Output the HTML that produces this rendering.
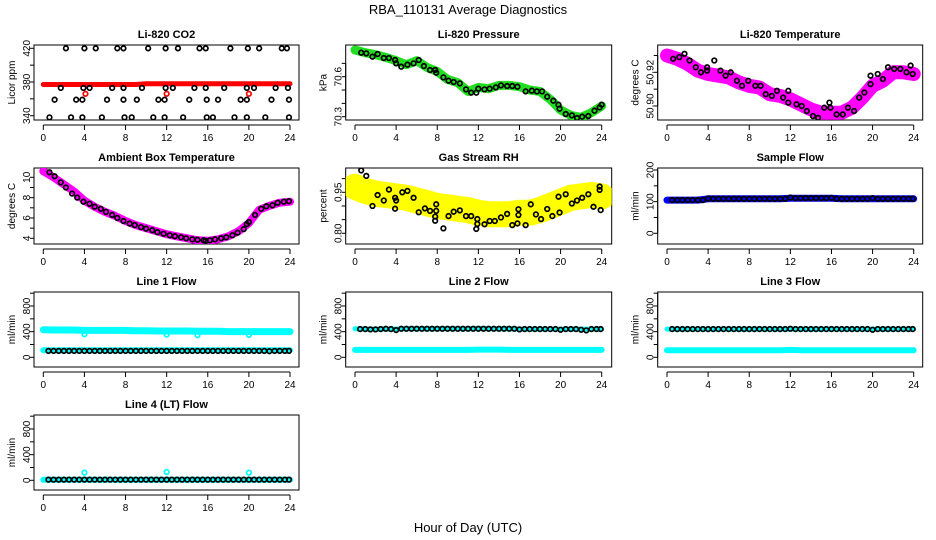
<!DOCTYPE html>
<html><head><meta charset="utf-8"><style>
html,body{margin:0;padding:0;background:#fff;}
svg{display:block;font-family:"Liberation Sans",sans-serif;}
</style></head><body>
<svg id="chart" width="936" height="540" viewBox="0 0 936 540" xmlns="http://www.w3.org/2000/svg">
<text x="468" y="14" font-size="13" text-anchor="middle">RBA_110131  Average Diagnostics</text>
<text x="468" y="532" font-size="13" text-anchor="middle">Hour of Day (UTC)</text>
</svg>
<script>
// ---- shared data ----
const hours = [0,1,2,3,4,5,6,7,8,9,10,11,12,13,14,15,16,17,18,19,20,21,22,23,24];
const halfHours = [0.5,1,1.5,2,2.5,3,3.5,4,4.5,5,5.5,6,6.5,7,7.5,8,8.5,9,9.5,10,10.5,11,11.5,12,12.5,13,13.5,14,14.5,15,15.5,16,16.5,17,17.5,18,18.5,19,19.5,20,20.5,21,21.5,22,22.5,23,23.5,23.9];
const xTicks = [0,4,8,12,16,20,24];

// CO2
const co2Band = [377,377,377,377,377,377,377,377,377,377,378,378,378,378,378,378,378,378,378,378,378,378,378,378,378];
const co2OutT = [4.1,12.0,20.0];
const co2OutV = [366,366,366];
const co2T = [2.2,4.0,5.1,7.2,7.8,10.2,11.9,13.1,15.2,15.8,18.2,19.9,21.0,23.2,23.7, 1.7,3.9,4.5,6.7,7.8,9.6,11.9,12.6,14.7,15.8,17.6,19.8,20.5,22.6,23.8, 1.1,3.2,3.8,6.2,7.8,9.1,11.2,11.8,14.2,15.9,17.0,19.2,19.8,22.2,23.9, 0.6,2.7,3.8,5.7,7.9,8.6,10.7,11.8,13.6,15.9,16.5,18.6,19.8,21.6,23.9];
const co2V = [420,420,420,420,420,420,420,420,420,420,420,420,420,420,420, 373,373,373,373,373,373,373,373,373,373,373,373,373,373,373, 359,359,359,359,359,359,359,359,359,359,359,359,359,359,359, 338,338,338,338,338,338,338,338,338,338,338,338,338,338,338];

// Pressure
const presBand = [70.80,70.78,70.765,70.745,70.72,70.69,70.72,70.67,70.64,70.58,70.555,70.49,70.52,70.51,70.535,70.535,70.525,70.50,70.49,70.43,70.35,70.31,70.295,70.33,70.38];
const presT = [0.6,1.1,1.7,2.2,2.8,3.3,3.9,4.0,4.5,5.1,5.7,6.2,6.7,7.3,7.8,7.9,8.6,9.1,9.6,10.2,10.8,11.3,11.8,12.0,12.6,13.1,13.7,14.2,14.8,15.3,15.8,16.6,17.2,17.7,18.2,18.7,19.3,19.8,19.9,20.5,21.1,21.6,22.1,22.7,23.3,23.8,24.0];
const presV = [70.78,70.775,70.75,70.77,70.74,70.74,70.725,70.70,70.675,70.69,70.70,70.725,70.68,70.65,70.65,70.63,70.595,70.57,70.56,70.55,70.505,70.48,70.48,70.51,70.505,70.51,70.52,70.535,70.53,70.53,70.525,70.49,70.495,70.49,70.49,70.45,70.42,70.39,70.36,70.32,70.31,70.29,70.30,70.305,70.345,70.37,70.39];

// Li-820 temperature
const tempBand = [50.930,50.928,50.925,50.921,50.919,50.918,50.917,50.914,50.912,50.911,50.907,50.906,50.904,50.901,50.898,50.896,50.896,50.896,50.899,50.905,50.912,50.915,50.920,50.920,50.919];
const tempT = [0.6,1.2,1.7,2.2,2.8,3.3,3.9,3.9,4.6,5.2,5.7,6.2,6.8,7.3,7.9,8.6,9.1,9.6,10.2,10.7,11.3,11.8,11.8,12.6,13.1,13.6,14.2,14.7,15.3,15.8,15.9,16.5,17.1,17.6,18.2,18.7,19.2,19.8,19.8,20.5,21.0,21.5,22.1,22.7,23.3,23.7,23.9];
const tempV = [50.928,50.929,50.931,50.927,50.923,50.920,50.923,50.921,50.927,50.921,50.918,50.920,50.915,50.912,50.915,50.912,50.912,50.907,50.906,50.909,50.905,50.909,50.902,50.901,50.900,50.897,50.894,50.893,50.899,50.902,50.899,50.895,50.895,50.899,50.897,50.905,50.908,50.913,50.918,50.919,50.916,50.923,50.922,50.922,50.920,50.924,50.919];

// Ambient box temperature
const ambBand = [10.6,10.0,9.3,8.6,7.7,7.1,6.6,6.2,5.7,5.3,5.0,4.7,4.4,4.2,4.0,3.8,3.75,3.9,4.2,4.7,5.5,6.8,7.2,7.5,7.6];
const ambT = [0.6,1.1,1.7,2.2,2.8,3.3,3.9,4.5,5.0,5.6,6.1,6.7,7.2,7.8,8.4,8.9,9.5,10.0,10.6,11.1,11.7,12.3,12.8,13.4,13.9,14.5,15.0,15.6,15.8,16.2,16.7,17.3,17.8,18.4,18.9,19.5,19.8,20.0,20.6,21.2,21.7,22.3,22.8,23.4,23.9];
const ambV = [10.5,10.1,9.5,9.0,8.4,8.0,7.6,7.4,7.1,6.9,6.6,6.3,6.0,5.7,5.45,5.3,5.1,4.95,4.8,4.6,4.45,4.3,4.2,4.1,4.0,3.9,3.85,3.8,3.75,3.8,3.9,4.0,4.1,4.3,4.55,4.9,5.4,5.6,6.3,6.9,7.15,7.25,7.5,7.6,7.65];

// Gas stream RH
const rhBand = [0.97,0.955,0.945,0.94,0.935,0.93,0.92,0.91,0.90,0.895,0.89,0.885,0.875,0.87,0.87,0.87,0.875,0.875,0.885,0.90,0.915,0.93,0.935,0.94,0.935];
const rhT = [0.6,1.1,1.7,2.2,2.8,3.3,3.9,4.0,3.9,4.6,5.1,5.7,6.2,6.8,7.3,7.9,7.9,7.8,7.8,8.6,9.1,9.6,10.2,10.8,11.3,11.9,11.9,11.8,12.6,13.1,13.6,14.2,14.8,15.3,15.8,15.9,15.9,16.6,17.1,17.6,18.1,18.7,19.2,19.8,19.9,20.5,21.1,21.6,22.1,22.7,23.2,23.8,23.8,23.9];
const rhV = [1.03,1.01,0.90,0.94,0.92,0.96,0.93,0.92,0.89,0.95,0.955,0.93,0.877,0.891,0.882,0.906,0.882,0.861,0.846,0.818,0.863,0.879,0.884,0.863,0.863,0.852,0.834,0.816,0.833,0.845,0.845,0.858,0.871,0.830,0.836,0.867,0.888,0.830,0.906,0.869,0.852,0.889,0.863,0.934,0.876,0.943,0.909,0.920,0.930,0.943,0.897,0.971,0.959,0.885];

// Sample flow
const sampBand = [105,105,105,105,109,109,109,109,109,109,109,109,111,111,111,111,111,109,109,109,109,109,109,109,109];
const sampV = [105,105,105,105,105,105,105,110,109,109,109,109,109,109,109,109,109,109,109,109,109,109,109,113,111,111,111,111,111,111,111,112,109,109,109,109,109,109,109,111,109,109,109,109,109,109,109,109];

// Line flows
const l1Upper = [430,425,425,425,420,420,420,420,420,415,415,410,410,410,410,405,405,405,400,400,400,400,400,400,400];
const l1Lower = [110,110,110,110,110,110,110,110,110,110,110,110,110,110,110,110,110,110,110,110,110,110,110,110,110];
const l1OutT = [4.0,12.0,15.0,20.0];
const l1OutV = [360,355,345,350];
const l1Black = [100,100,100,100,100,100,100,100,100,100,100,100,100,100,100,100,100,100,100,100,100,100,100,100,100,100,100,100,100,100,100,100,100,100,100,100,100,100,100,100,100,100,100,95,100,100,100,100];
const l2Upper = [445,440,440,440,440,445,445,445,445,445,445,445,450,445,445,445,440,440,440,440,440,440,440,440,440];
const l2Lower = [115,115,115,115,115,115,115,115,115,115,115,115,120,120,120,115,115,115,115,115,115,115,115,115,115];
const l2Black = [440,440,435,435,440,445,440,425,445,445,445,445,445,445,445,445,445,445,445,445,445,445,445,445,445,445,445,445,445,445,445,435,440,440,440,440,440,440,440,430,440,440,440,430,420,440,440,440];
const l3Upper = [440,440,440,440,440,440,440,440,440,440,440,440,440,440,440,440,440,440,440,440,440,440,440,440,440];
const l3Lower = [110,110,110,110,110,110,110,110,110,110,110,110,115,110,110,110,110,110,110,110,110,110,110,110,110];
const l3Black = [440,440,440,440,440,440,440,440,440,440,440,440,440,440,440,440,440,440,440,440,440,440,440,445,440,440,440,440,440,440,440,440,440,440,440,440,440,440,440,430,440,440,440,440,440,440,440,440];
const l4Band = [10,10,10,10,10,10,10,10,10,10,10,10,10,10,10,10,10,10,10,10,10,10,10,10,10];
const l4OutT = [4.0,12.0,20.0];
const l4OutV = [120,130,120];
const l4Black = [10,10,10,10,10,10,10,10,10,10,10,10,10,10,10,10,10,10,10,10,10,10,10,10,10,10,10,10,10,10,10,10,10,10,10,10,10,10,10,10,10,10,10,10,10,10,10,10];

const svg = document.getElementById('chart');
const NS = 'http://www.w3.org/2000/svg';
function mk(tag, attrs, parent){
  const e = document.createElementNS(NS, tag);
  for (const k in attrs) e.setAttribute(k, attrs[k]);
  (parent||svg).appendChild(e);
  return e;
}
const cols = [{l:34,r:299,x0:43.3,x24:290},{l:345.7,r:611.7,x0:355,x24:601.7},{l:657.7,r:922.7,x0:667,x24:913.7}];
const rows = [{t:45,b:120},{t:168,b:244},{t:292,b:367},{t:415,b:490}];

function panel(slug, title, ylab, c, r, v1, p1, v2, p2, yTicks, yLabels){
  const C = cols[c], R = rows[r];
  const g = mk('g', {});
  
  
  const xs = h => C.x0 + (C.x24 - C.x0) * h / 24;
  const ys = v => p1 + (v - v1) * (p2 - p1) / (v2 - v1);
  const box = mk('rect', {x:C.l, y:R.t, width:C.r-C.l, height:R.b-R.t, fill:'none', stroke:'#000', 'stroke-width':1}, g);
  
  
  const tt = mk('text', {x:(C.l+C.r)/2, y:R.t-7, 'font-size':11, 'font-weight':'bold', 'text-anchor':'middle'}, g);
  tt.textContent = title;
  
  
  const yt = mk('text', {x:0, y:0, 'font-size':10, 'text-anchor':'middle', transform:`translate(${C.l-19},${(R.t+R.b)/2}) rotate(-90)`}, g);
  yt.textContent = ylab;
  
  
  const xa = mk('g', {}, g);
  
  
  mk('line', {x1:xs(0), x2:xs(24), y1:R.b+5, y2:R.b+5, stroke:'#000'}, xa);
  xTicks.forEach(h => {
    mk('line', {x1:xs(h), x2:xs(h), y1:R.b+5, y2:R.b+10, stroke:'#000'}, xa);
    const t = mk('text', {x:xs(h), y:R.b+21, 'font-size':10, 'text-anchor':'middle'}, xa);
    t.textContent = h;
  });
  const ya = mk('g', {}, g);
  
  
  mk('line', {x1:C.l, x2:C.l, y1:ys(yTicks[0]), y2:ys(yTicks[yTicks.length-1]), stroke:'#000'}, ya);
  yTicks.forEach((v,i) => {
    mk('line', {x1:C.l-4, x2:C.l, y1:ys(v), y2:ys(v), stroke:'#000'}, ya);
    if (yLabels[i]) {
      const t = mk('text', {x:0, y:0, 'font-size':10, 'text-anchor':'middle', transform:`translate(${C.l-4},${ys(v)}) rotate(-90)`}, ya);
      t.textContent = yLabels[i];
    }
  });
  const clip = 'clip-' + slug;
  const cp = mk('clipPath', {id:clip}, g);
  mk('rect', {x:C.l, y:R.t, width:C.r-C.l, height:R.b-R.t}, cp);
  const plot = mk('g', {'clip-path':`url(#${clip})`}, g);
  return {
    band(ts, vs, color, w, name){
      const pts = ts.map((h,i)=> xs(h).toFixed(1)+','+ys(vs[i]).toFixed(1)).join(' ');
      const pl = mk('polyline', {points:pts, fill:'none', stroke:color, 'stroke-width':w, 'stroke-linejoin':'round', 'stroke-linecap':'round'}, plot);
      
      
    },
    pts(ts, vs, color, name){
      const pg = mk('g', {}, plot);
      
      
      ts.forEach((h,i) => {
        mk('circle', {cx:xs(h), cy:ys(vs[i]), r:2.3, fill:'none', stroke:color, 'stroke-width':1.7}, pg);
      });
    }
  };
}

let p;
p = panel('co2','Li-820 CO2','Licor ppm',0,0,420,48.3,340,115.7,[340,360,380,400,420],['340','','380','','420']);
p.band(hours, co2Band, '#ff0000', 5, 'co2-band');
p.pts(co2OutT, co2OutV, '#ff0000', 'co2-outliers');
p.pts(co2T, co2V, '#000', 'co2-averages');

p = panel('pressure','Li-820 Pressure','kPa',1,0,70.6,76.7,70.3,116.7,[70.3,70.4,70.5,70.6,70.7],['70.3','','','70.6','']);
p.band(hours, presBand, '#22dd22', 9, 'pressure-band');
p.pts(presT, presV, '#000', 'pressure-averages');

p = panel('licor-temp','Li-820 Temperature','degrees C',2,0,50.92,72.3,50.90,106,[50.90,50.91,50.92,50.93],['50.90','','50.92','']);
p.band(hours, tempBand, '#ff00ff', 14, 'temperature-band');
p.pts(tempT, tempV, '#000', 'temperature-averages');

p = panel('ambient','Ambient Box Temperature','degrees C',0,1,10,177.3,4,238.3,[4,5,6,7,8,9,10],['4','','6','','8','','10']);
p.band(hours, ambBand, '#ff00ff', 8, 'ambient-band');
p.pts(ambT, ambV, '#000', 'ambient-averages');

p = panel('rh','Gas Stream RH','percent',1,1,0.95,192.3,0.80,233.3,[0.80,0.85,0.90,0.95,1.00],['0.80','','','0.95','']);
p.band(hours, rhBand, '#ffff00', 26, 'rh-band');
p.pts(rhT, rhV, '#000', 'rh-averages');

p = panel('sample-flow','Sample Flow','ml/min',2,1,200,170,0,233.3,[0,50,100,150,200],['0','','100','','200']);
p.band(hours, sampBand, '#0000ff', 7, 'sample-band');
p.pts(halfHours, sampV, '#000', 'sample-averages');

const flowTicks = [0,200,400,600,800,1000];
const flowLabels = ['0','','400','','800',''];
p = panel('line1','Line 1 Flow','ml/min',0,2,0,357.3,800,306,flowTicks,flowLabels);
p.band(hours, l1Upper, '#00ffff', 7, 'upper-band');
p.band(hours, l1Lower, '#00ffff', 6, 'lower-band');
p.pts(l1OutT, l1OutV, '#00ffff', 'outliers');
p.pts(halfHours, l1Black, '#000', 'averages');

p = panel('line2','Line 2 Flow','ml/min',1,2,0,357.3,800,306,flowTicks,flowLabels);
p.band(hours, l2Upper, '#00ffff', 5, 'upper-band');
p.band(hours, l2Lower, '#00ffff', 6, 'lower-band');
p.pts(halfHours, l2Black, '#000', 'averages');

p = panel('line3','Line 3 Flow','ml/min',2,2,0,357.3,800,306,flowTicks,flowLabels);
p.band(hours, l3Upper, '#00ffff', 5, 'upper-band');
p.band(hours, l3Lower, '#00ffff', 6, 'lower-band');
p.pts(halfHours, l3Black, '#000', 'averages');

p = panel('line4','Line 4 (LT) Flow','ml/min',0,3,0,480.3,800,429,flowTicks,flowLabels);
p.band(hours, l4Band, '#00ffff', 6, 'band');
p.pts(l4OutT, l4OutV, '#00ffff', 'outliers');
p.pts(halfHours, l4Black, '#000', 'averages');
</script>
</body></html>
